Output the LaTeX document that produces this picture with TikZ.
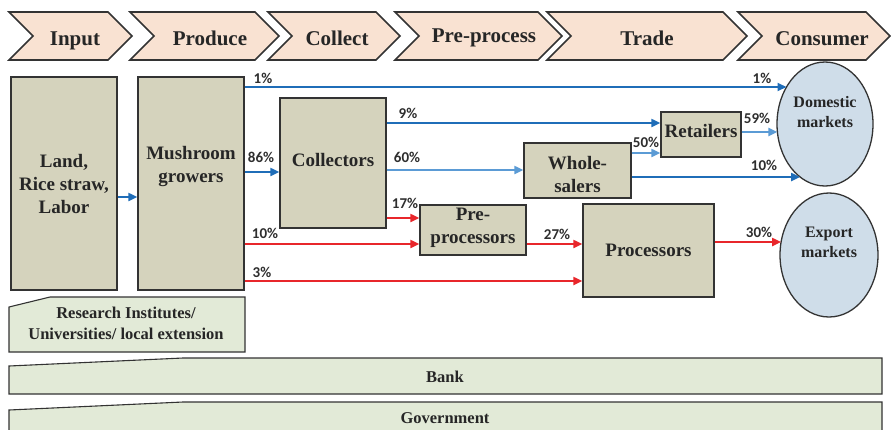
\documentclass[tikz,border=0pt]{standalone}
\usepackage{fontspec}
\setmainfont{Liberation Serif}
\newfontfamily\pctfont{Carlito}
\usetikzlibrary{arrows.meta,shapes.geometric}
\definecolor{chevfill}{HTML}{F9E2D2}
\definecolor{boxfill}{HTML}{D5D3BD}
\definecolor{ellfill}{HTML}{CFDDE9}
\definecolor{grnfill}{HTML}{E2EAD7}
\definecolor{edge}{HTML}{333333}
\definecolor{ink}{HTML}{262626}
\definecolor{dblue}{HTML}{1F6DB8}
\definecolor{lblue}{HTML}{5B9BD5}
\definecolor{fred}{HTML}{E8262B}
\definecolor{pcttext}{HTML}{2E2E2E}
\newcommand\mychev[2]{\draw[chev] (#1,12) -- (#2-24,12) -- (#2,36) -- (#2-24,60) -- (#1,60) -- (#1+24,36) -- cycle;}
\begin{document}
\begin{tikzpicture}[x=1pt,y=-1pt,
  chev/.style={draw=edge, line width=1.6pt, fill=chevfill, line join=miter},
  chevtext/.style={font=\fontsize{21}{25}\selectfont\bfseries, text=ink, inner sep=0pt, text height=14pt, text depth=4pt},
  box/.style={draw=edge, line width=1.3pt, fill=boxfill, inner sep=0pt},
  boxtext/.style={font=\fontsize{19}{23}\selectfont\bfseries, text=ink, align=center},
  mkt/.style={ellipse, draw=edge, line width=1.3pt, fill=ellfill, inner sep=0pt},
  mkttext/.style={font=\fontsize{16}{20}\selectfont\bfseries, text=ink, align=center, inner sep=0pt},
  support/.style={draw=edge, line width=1.1pt, fill=grnfill},
  supporttext/.style={font=\fontsize{16.5}{21}\selectfont\bfseries, text=ink, align=center, inner sep=0pt},
  flow/.style={line width=2pt, -{Triangle[length=9pt,width=8pt]}},
  pct/.style={font=\pctfont\fontsize{15}{18}\selectfont\bfseries, text=pcttext, inner sep=0pt},
]
\useasboundingbox (0,0) rectangle (891,429);
% value chain chevrons
\mychev{9}{132}
\mychev{130}{279}
\mychev{268}{400}
\mychev{395}{562}
\mychev{547}{747}
\mychev{738}{890}
\node[chevtext] (cInput) at (75,40) {Input};
\node[chevtext] (cProduce) at (210,40) {Produce};
\node[chevtext] (cCollect) at (337,40) {Collect};
\node[chevtext] (cPre) at (484,37) {Pre-process};
\node[chevtext] (cTrade) at (647,40) {Trade};
\node[chevtext] (cCons) at (822,40) {Consumer};
% actors
\node[box, boxtext, minimum width=106, minimum height=213] (land) at (64,183.5) {Land,\\Rice straw,\\Labor};
\node[box, minimum width=106, minimum height=213] (growers) at (191,183.5) {};
\node[boxtext] (growerstext) at (191,166) {Mushroom\\growers};
\node[box, minimum width=106, minimum height=130] (coll) at (333,163) {};
\node[boxtext] (colltext) at (333,160) {Collectors};
\node[box, minimum width=107, minimum height=55] (whole) at (577.5,170.5) {};
\node[boxtext] (wholetext) at (577.5,174) {Whole-\\salers};
\node[box, minimum width=80, minimum height=45] (ret) at (701,134.5) {};
\node[boxtext] (rettext) at (701,131) {Retailers};
\node[box, minimum width=106, minimum height=50] (prep) at (473,230) {};
\node[boxtext] (preptext) at (473,228) {Pre-\\processors};
\node[box, boxtext, minimum width=131, minimum height=93] (proc) at (648.5,250.5) {Processors};
\node[mkt, minimum width=96, minimum height=124] (dom) at (825,124) {};
\node[mkttext] (domtext) at (825,112) {Domestic\\markets};
\node[mkt, minimum width=98, minimum height=124] (exp) at (829,255) {};
\node[mkttext] (exptext) at (829,242) {Export\\markets};
\coordinate (d1) at (786.5,87);
\coordinate (d2) at (777.4,132);
\coordinate (d3) at (800.1,177);
\coordinate (e1) at (781.1,242);
% flows
\draw[flow,dblue] (land.east |- 0,197) -- (growers.west |- 0,197);
\draw[flow,dblue] (growers.east |- 0,87) -- (d1);
\draw[flow,dblue] (growers.east |- 0,172) -- (coll.west |- 0,172);
\draw[flow,fred] (growers.east |- 0,244) -- (prep.west |- 0,244);
\draw[flow,fred] (growers.east |- 0,281) -- (proc.west |- 0,281);
\draw[flow,dblue] (coll.east |- 0,123) -- (ret.west |- 0,123);
\draw[flow,lblue] (coll.east |- 0,170) -- (whole.west |- 0,170);
\draw[flow,fred] (coll.east |- 0,218) -- (prep.west |- 0,218);
\draw[flow,lblue] (whole.east |- 0,153) -- (ret.west |- 0,153);
\draw[flow,dblue] (whole.east |- 0,177) -- (d3);
\draw[flow,lblue] (ret.east |- 0,132) -- (d2);
\draw[flow,fred] (prep.east |- 0,244) -- (proc.west |- 0,244);
\draw[flow,fred] (proc.east |- 0,242) -- (e1);
% percentages
\node[pct] (p1) at (263,78) {1\%};
\node[pct] (p2) at (762,78) {1\%};
\node[pct] (p3) at (261,157) {86\%};
\node[pct] (p4) at (408,113) {9\%};
\node[pct] (p5) at (407,157) {60\%};
\node[pct] (p6) at (405,203) {17\%};
\node[pct] (p7) at (265,233) {10\%};
\node[pct] (p8) at (262,272) {3\%};
\node[pct] (p9) at (557,234) {27\%};
\node[pct] (p10) at (646,142) {50\%};
\node[pct] (p11) at (757,118) {59\%};
\node[pct] (p12) at (764,165) {10\%};
\node[pct] (p13) at (759,232) {30\%};
% supporting actors
\draw[support] (9,307) -- (50,297) -- (245,297) -- (245,352) -- (9,352) -- cycle;
\node[supporttext] (research) at (126,323) {Research Institutes/\\Universities/ local extension};
\draw[support] (9,366) -- (183,358) -- (882,358) -- (882,394) -- (9,394) -- cycle;
\node[supporttext] (bank) at (445,377) {Bank};
\draw[support] (9,410) -- (183,402) -- (882,402) -- (882,445) -- (9,445) -- cycle;
\node[supporttext] (gov) at (445,418) {Government};
\end{tikzpicture}
\end{document}
